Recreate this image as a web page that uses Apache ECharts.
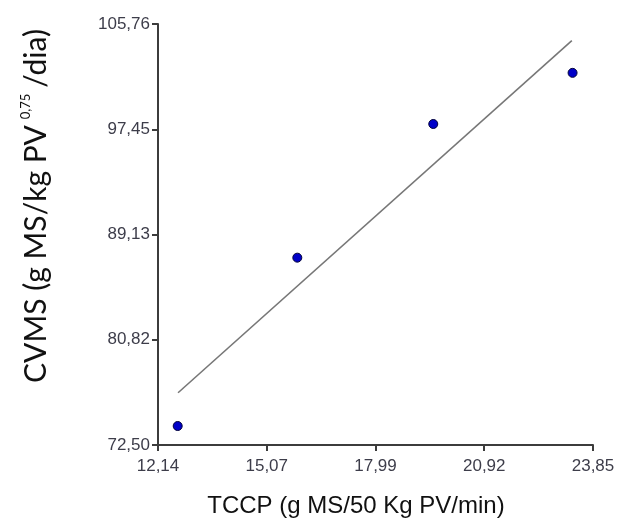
<!DOCTYPE html>
<html>
<head>
<meta charset="utf-8">
<script src="https://cdn.jsdelivr.net/npm/echarts@6/dist/echarts.min.js"></script>
<style>
  html, body { margin: 0; padding: 0; background: #fff; }
  #chart { width: 624px; height: 525px; }
</style>
</head>
<body>
<div id="chart"></div>
<script>
// measured points (TCCP, CVMS)
var pointsX = [12.67, 15.89, 19.55, 23.30];
var pointsY = [74.0, 87.3, 97.86, 101.9];
// regression line ends
var lineX = [12.68, 23.28];
var lineY = [76.63, 104.44];
// tick labels
var xTicks = ['12,14', '15,07', '17,99', '20,92', '23,85'];
var yTicks = ['72,50', '80,82', '89,13', '97,45', '105,76'];
var xMin = 12.14, xMax = 23.85;
var yMin = 72.50, yMax = 105.76;

var points = pointsX.map(function (x, i) { return [x, pointsY[i]]; });
var line = lineX.map(function (x, i) { return [x, lineY[i]]; });

var axisColor = '#3c3c3c';
var labelStyle = { color: '#3d3d4a', fontSize: 17, fontFamily: 'Liberation Sans, Arial, sans-serif' };

var myChart = echarts.init(document.getElementById('chart'));
var option = {
    animation: false,
    grid: { left: 158, right: 31, top: 24, bottom: 80, containLabel: false },
    xAxis: {
        type: 'value',
        min: xMin,
        max: xMax,
        interval: (xMax - xMin) / 4,
        splitLine: { show: false },
        axisLine: { lineStyle: { color: axisColor, width: 2 } },
        axisTick: { length: 6, lineStyle: { color: axisColor, width: 2 } },
        axisLabel: Object.assign({
            margin: 13,
            formatter: function (v) {
                return xTicks[Math.round((v - xMin) / ((xMax - xMin) / 4))];
            }
        }, labelStyle)
    },
    yAxis: {
        type: 'value',
        min: yMin,
        max: yMax,
        interval: (yMax - yMin) / 4,
        splitLine: { show: false },
        axisLine: { lineStyle: { color: axisColor, width: 2 } },
        axisTick: { length: 6, lineStyle: { color: axisColor, width: 2 } },
        axisLabel: Object.assign({
            margin: 8,
            formatter: function (v) {
                return yTicks[Math.round((v - yMin) / ((yMax - yMin) / 4))];
            }
        }, labelStyle)
    },
    graphic: [
        {
            type: 'text',
            x: 34,
            y: 206,
            rotation: Math.PI / 2,
            style: {
                text: '{a|CVMS (g MS/kg PV}{s|0,75}{a|/dia)}',
                align: 'center',
                verticalAlign: 'middle',
                rich: {
                    a: { fontSize: 30, fontFamily: 'Lato, Liberation Sans, sans-serif', fill: '#111', verticalAlign: 'bottom', lineHeight: 34 },
                    s: { fontSize: 13, fontFamily: 'Lato, Liberation Sans, sans-serif', fill: '#111', verticalAlign: 'top', lineHeight: 34, padding: [2, 6, 0, 6] }
                }
            }
        },
        {
            type: 'text',
            x: 356,
            y: 506,
            style: {
                text: 'TCCP (g MS/50 Kg PV/min)',
                align: 'center',
                verticalAlign: 'middle',
                fontSize: 24,
                fontFamily: 'Liberation Sans Narrow, Liberation Sans, sans-serif',
                fill: '#111'
            }
        }
    ],
    series: [
        {
            type: 'line',
            data: line,
            showSymbol: false,
            symbol: 'none',
            lineStyle: { color: '#777', width: 1.6 },
            z: 2
        },
        {
            type: 'scatter',
            data: points,
            symbolSize: 9,
            itemStyle: { color: '#0000c8', borderColor: '#00003a', borderWidth: 1, opacity: 1 },
            z: 3
        }
    ]
};
myChart.setOption(option);
</script>
</body>
</html>
